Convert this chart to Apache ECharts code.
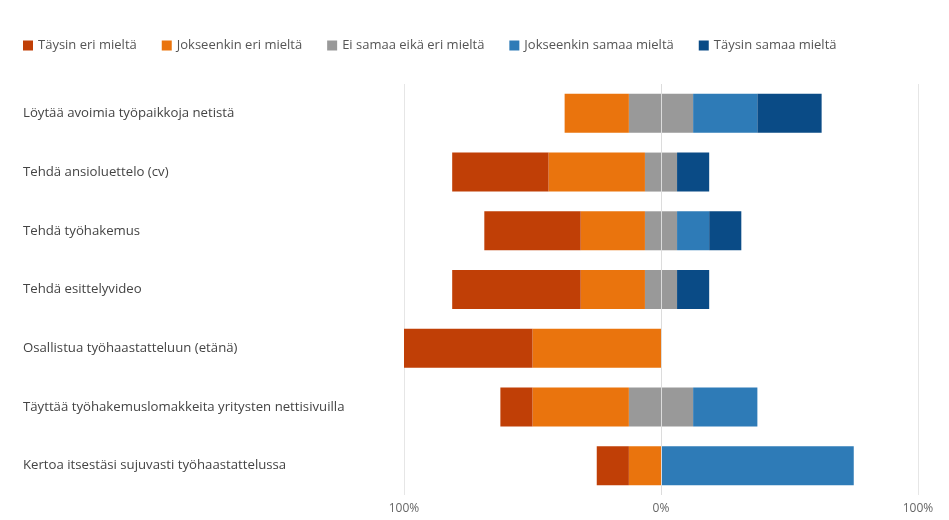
<!DOCTYPE html>
<html>
<head>
<meta charset="utf-8">
<script src="https://cdn.jsdelivr.net/npm/echarts@6/dist/echarts.min.js"></script>
<style>
  html, body { margin: 0; padding: 0; background: #fff; }
  #chart { width: 949px; height: 520px; }
</style>
</head>
<body>
<div id="chart"></div>
<script>
// Kysymykset ylhäältä alas
const categories = [
  "Löytää avoimia työpaikkoja netistä",
  "Tehdä ansioluettelo (cv)",
  "Tehdä työhakemus",
  "Tehdä esittelyvideo",
  "Osallistua työhaastatteluun (etänä)",
  "Täyttää työhakemuslomakkeita yritysten nettisivuilla",
  "Kertoa itsestäsi sujuvasti työhaastattelussa"
];

// Osuudet prosentteina
const taysinEri       = [0, 37.5, 37.5, 50, 50, 12.5, 12.5];
const jokseenkinEri   = [25, 37.5, 25, 25, 50, 37.5, 12.5];
const eiSamaaEiEri    = [25, 12.5, 12.5, 12.5, 0, 25, 0];
const jokseenkinSamaa = [25, 0, 12.5, 0, 0, 25, 75];
const taysinSamaa     = [25, 12.5, 12.5, 12.5, 0, 0, 0];

const names = [
  "Täysin eri mieltä",
  "Jokseenkin eri mieltä",
  "Ei samaa eikä eri mieltä",
  "Jokseenkin samaa mieltä",
  "Täysin samaa mieltä"
];
const colors = ["#C03F06", "#EA740D", "#999999", "#2E7BB7", "#0A4B86"];

const axisTicks = [-100, 0, 100];

function bar(name, color, data, extra) {
  return Object.assign({
    name: name,
    type: "bar",
    stack: "total",
    barWidth: 39,
    itemStyle: { color: color },
    data: data
  }, extra || {});
}

let chart = echarts.init(document.getElementById("chart"));

chart.setOption({
  animation: false,
  backgroundColor: "#fff",
  textStyle: { fontFamily: "Open Sans, Noto Sans, sans-serif" },
  legend: {
    data: names,
    left: 18,
    top: 34,
    itemWidth: 10,
    itemHeight: 10,
    itemGap: 25,
    icon: "rect",
    textStyle: { fontSize: 13, color: "#555" }
  },
  grid: { left: 404, right: 31, top: 84, bottom: 25 },
  xAxis: {
    type: "value",
    min: axisTicks[0],
    max: axisTicks[axisTicks.length - 1],
    interval: 100,
    axisLine: { show: false },
    axisTick: { show: false },
    axisLabel: {
      color: "#666",
      fontSize: 12,
      margin: 8,
      formatter: (v) => Math.abs(v) + "%"
    },
    splitLine: { show: true, lineStyle: { color: "#e6e6e6" } }
  },
  yAxis: {
    type: "category",
    inverse: true,
    data: categories,
    axisLine: { show: false },
    axisTick: { show: false },
    axisLabel: {
      align: "left",
      margin: 381,
      fontSize: 13.2,
      color: "#444"
    }
  },
  series: [
    // negatiivinen puoli: lähimpänä nollaa ensin
    bar(names[2], colors[2], eiSamaaEiEri.map(v => -v / 2)),
    bar(names[1], colors[1], jokseenkinEri.map(v => -v)),
    bar(names[0], colors[0], taysinEri.map(v => -v)),
    // positiivinen puoli
    bar(names[2], colors[2], eiSamaaEiEri.map(v => v / 2), {
      markLine: {
        silent: true,
        symbol: "none",
        label: { show: false },
        lineStyle: { color: "#dcdcdc", type: "solid", width: 1 },
        data: [{ xAxis: 0 }]
      }
    }),
    bar(names[3], colors[3], jokseenkinSamaa),
    bar(names[4], colors[4], taysinSamaa)
  ]
});
</script>
</body>
</html>
